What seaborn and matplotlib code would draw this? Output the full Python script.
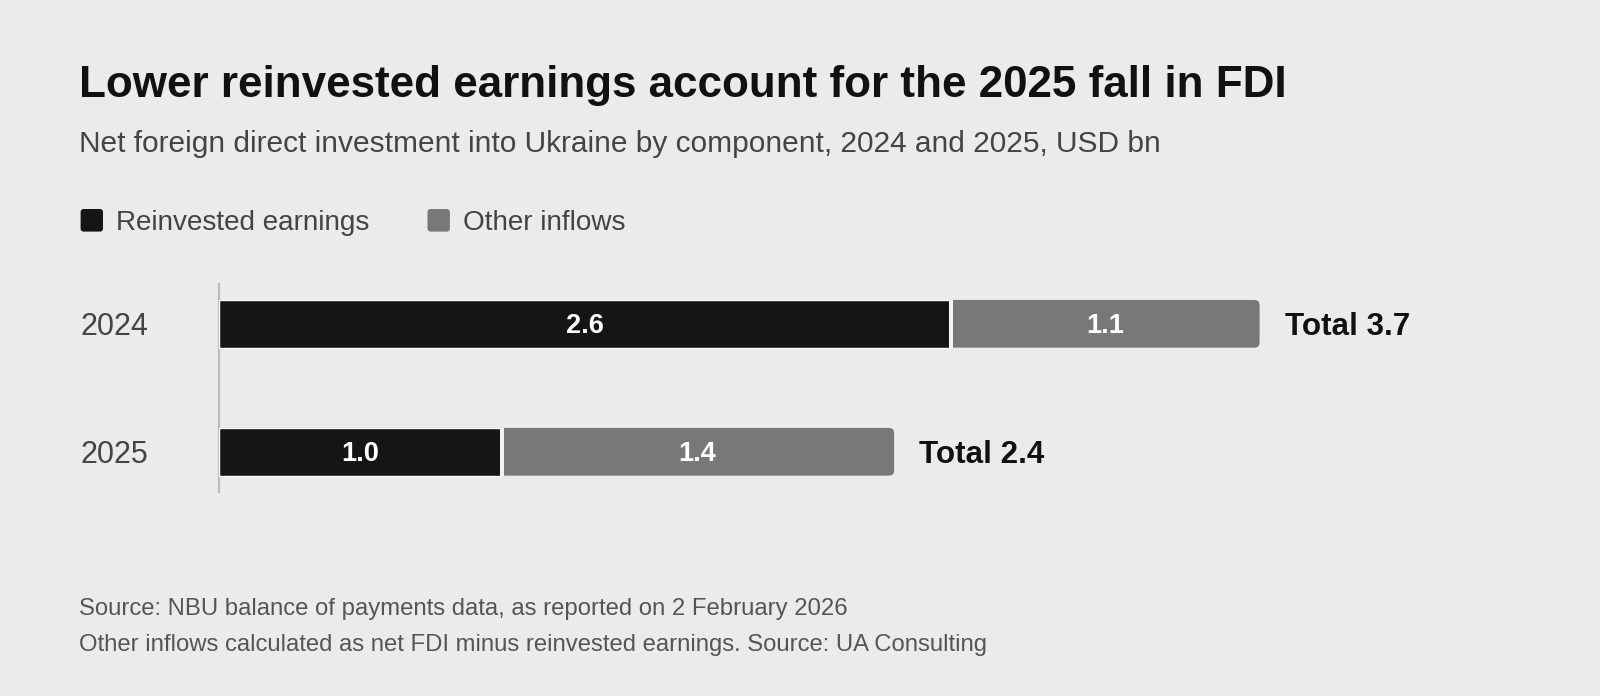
import matplotlib
matplotlib.use("Agg")
import matplotlib.pyplot as plt
import matplotlib.transforms as mtransforms
from matplotlib.patches import FancyBboxPatch
import seaborn as sns
import pandas as pd

# data (USD bn)
years = ["2024", "2025"]
reinvested = [2.6, 1.0]
other = [1.1, 1.4]
totals = [3.7, 2.4]
series_names = ["Reinvested earnings", "Other inflows"]

title = "Lower reinvested earnings account for the 2025 fall in FDI"
subtitle = "Net foreign direct investment into Ukraine by component, 2024 and 2025, USD bn"
notes = ["Source: NBU balance of payments data, as reported on 2 February 2026",
         "Other inflows calculated as net FDI minus reinvested earnings. Source: UA Consulting"]

BG = "#ebebeb"
BLACK = "#151515"
GREY = "#787878"

sns.set_style("white", {"axes.facecolor": BG, "figure.facecolor": BG})
plt.rcParams["font.family"] = ["Liberation Sans", "DejaVu Sans"]

W, H = 1600, 696
fig = plt.figure(figsize=(W / 100, H / 100), dpi=100, facecolor=BG)
ax = fig.add_axes([219.5 / W, 1 - 491.7 / H, 1 - 219.5 / W, 207.7 / H])

df = pd.DataFrame({"year": years, "reinvested": reinvested,
                   "other": other, "total": totals})

bw = 0.3727
# grey = full total bar, black drawn on top of it
sns.barplot(data=df, x="total", y="year", orient="h", color=GREY,
            saturation=1, width=bw, errorbar=None, ax=ax)
for p in list(ax.patches):
    x0, y0, w, h = p.get_x(), p.get_y(), p.get_width(), p.get_height()
    p.remove()
    ax.add_patch(FancyBboxPatch((x0, y0), w, h,
                                boxstyle="round,pad=0,rounding_size=0.018",
                                mutation_aspect=2.2, fc=GREY, ec="none", zorder=2))

sns.barplot(data=df, x="reinvested", y="year", orient="h", color=BLACK,
            saturation=1, width=bw, errorbar=None, ax=ax, zorder=3)

ypos = list(range(len(years)))
ax.vlines(df["reinvested"] + 0.004, [y - bw / 2 for y in ypos], [y + bw / 2 for y in ypos],
          color="#f4f4f4", lw=2.9, zorder=4)

ax.set_xlim(0, (W - 219.5) / 281.1)
ax.set_ylim(1.312, -0.311)
ax.set_xticks([])
ax.set_yticks([])
ax.set_xlabel("")
ax.set_ylabel("")
for s in ["top", "right", "bottom"]:
    ax.spines[s].set_visible(False)
ax.spines["left"].set_color("#bbbbbb")
ax.spines["left"].set_linewidth(1.5)


def shifted(tr, px):
    return tr + mtransforms.ScaledTranslation(0, -px / 100, fig.dpi_scale_trans)


val_tr = shifted(ax.transData, 9.7)
tot_tr = shifted(ax.transData, 11.3)
for i in ypos:
    ax.text(reinvested[i] / 2, i, f"{reinvested[i]:.1f}", transform=val_tr,
            ha="center", va="baseline", color="white", fontsize=19.5,
            fontweight="bold", zorder=5)
    ax.text(reinvested[i] + other[i] / 2, i, f"{other[i]:.1f}", transform=val_tr,
            ha="center", va="baseline", color="white", fontsize=19.5,
            fontweight="bold", zorder=5)
    ax.text(totals[i] + 0.089, i, f"Total {totals[i]:.1f}", transform=tot_tr,
            ha="left", va="baseline", color="#111111", fontsize=22.6,
            fontweight="bold", clip_on=False)

# year labels on the left
year_tr = shifted(mtransforms.blended_transform_factory(fig.transFigure, ax.transData), 11)
for i, yr in enumerate(years):
    ax.text(80 / W, i, yr, transform=year_tr, ha="left", va="baseline",
            fontsize=22, color="#444444", clip_on=False)

# titles
fig.text(79 / W, 1 - 96.7 / H, title, fontsize=31.7, fontweight="bold",
         color="#111111", ha="left", va="baseline")
fig.text(79 / W, 1 - 151.7 / H, subtitle, fontsize=21.5, color="#444444",
         ha="left", va="baseline")

# legend
leg = [(80.6, 116.3, BLACK), (427.5, 463, GREY)]
for (sx, tx, col), name in zip(leg, series_names):
    fig.add_artist(FancyBboxPatch((sx / 100, (H - 231.6) / 100), 0.224, 0.226,
                                  boxstyle="round,pad=0,rounding_size=0.03",
                                  transform=fig.dpi_scale_trans, fc=col, ec="none"))
    fig.text(tx / W, 1 - 230.3 / H, name, fontsize=20.1, color="#444444",
             ha="left", va="baseline")

# footer
for k, line in enumerate(notes):
    fig.text(79 / W, 1 - (615.5 + 35.7 * k) / H, line, fontsize=17.2,
             color="#555555", ha="left", va="baseline")

fig.savefig("out.png", dpi=100, facecolor=BG)
